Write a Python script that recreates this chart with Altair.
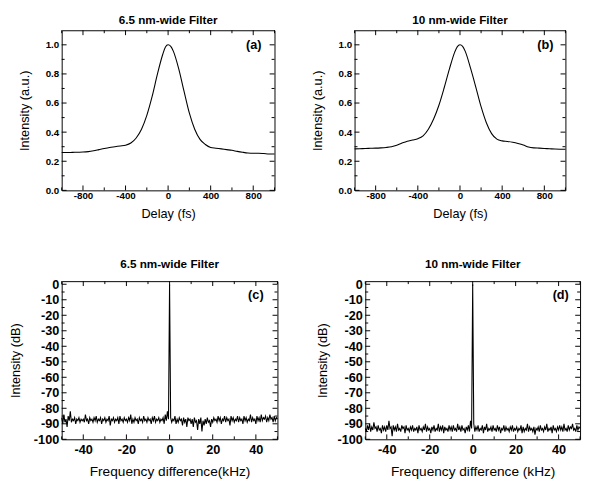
import altair as alt
import pandas as pd
import numpy as np

# ---------------- data ----------------
delay = [-1000, -950, -900, -850, -800, -750, -700, -650, -600, -550, -500, -450,
         -400, -350, -300, -250, -200, -150, -100, -50, -25, 0, 25, 50, 100, 150, 200, 250,
         300, 350, 400, 450, 500, 550, 600, 650, 700, 750, 800, 850, 900, 950, 1000]

intensity_a = [0.260, 0.260, 0.261, 0.262, 0.263, 0.266, 0.272, 0.280, 0.288, 0.295,
               0.300, 0.305, 0.310, 0.325, 0.360, 0.420, 0.515, 0.645, 0.800, 0.935, 0.985,
               1.000, 0.990, 0.955, 0.835, 0.680, 0.530, 0.420, 0.350, 0.315, 0.295, 0.290,
               0.285, 0.280, 0.275, 0.268, 0.262, 0.257, 0.255, 0.255, 0.253, 0.250, 0.250]

intensity_b = [0.285, 0.286, 0.288, 0.289, 0.290, 0.292, 0.295, 0.300, 0.310, 0.325,
               0.338, 0.346, 0.355, 0.375, 0.420, 0.490, 0.585, 0.705, 0.835, 0.950, 0.988,
               1.000, 0.990, 0.955, 0.840, 0.710, 0.575, 0.465, 0.390, 0.352, 0.340, 0.336,
               0.330, 0.322, 0.312, 0.298, 0.292, 0.290, 0.288, 0.286, 0.284, 0.283, 0.283]

freq = list(np.arange(-50, 50.5, 0.5))

spectrum_c = [
    -86, -90, -84, -89, -87, -92, -85, -88, -82, -89, -87, -88, -86, -90, -87, -88, -86, -89, -87, -88,
    -87, -89, -84, -88, -87, -90, -86, -88, -87, -89, -86, -88, -85, -89, -87, -88, -86, -90, -87, -88,
    -86, -89, -87, -88, -85, -91, -87, -88, -86, -89, -87, -88, -86, -90, -85, -88, -87, -89, -86, -88,
    -87, -89, -86, -88, -84, -90, -87, -89, -86, -88, -87, -90, -86, -88, -87, -89, -85, -88, -87, -89,
    -86, -88, -87, -90, -86, -88, -85, -89, -87, -88, -86, -89, -87, -88, -86, -90, -84, -88, -82, -87,
    0,
    -86, -89, -87, -88, -85, -90, -87, -89, -86, -88, -87, -91, -86, -89, -87, -92, -86, -88, -87, -90,
    -87, -92, -86, -89, -88, -94, -87, -90, -86, -95, -88, -91, -87, -90, -86, -89, -88, -92, -87, -89,
    -86, -88, -87, -89, -85, -88, -86, -90, -87, -88, -85, -89, -86, -88, -87, -91, -85, -88, -86, -89,
    -87, -88, -85, -89, -86, -88, -87, -90, -85, -88, -86, -89, -87, -88, -84, -89, -86, -88, -87, -90,
    -85, -88, -86, -89, -84, -88, -86, -87, -85, -89, -86, -88, -84, -87, -86, -89, -85, -88, -86, -87,
]

spectrum_d = [
    -93, -95, -91, -94, -90, -95, -92, -94, -89, -93, -92, -95, -91, -94, -93, -96, -91, -94, -92, -95,
    -91, -94, -88, -93, -92, -98, -91, -94, -92, -95, -90, -94, -93, -95, -91, -93, -92, -96, -91, -94,
    -93, -95, -92, -94, -91, -95, -93, -94, -92, -96, -91, -94, -93, -95, -92, -94, -90, -95, -92, -94,
    -93, -96, -92, -94, -91, -95, -93, -94, -90, -95, -92, -94, -91, -96, -92, -94, -93, -95, -91, -94,
    -92, -95, -91, -94, -93, -95, -90, -94, -92, -95, -91, -94, -93, -96, -92, -94, -91, -95, -88, -93,
    0,
    -90, -95, -92, -94, -91, -95, -93, -94, -91, -96, -92, -94, -90, -95, -93, -94, -92, -95, -91, -94,
    -93, -95, -91, -94, -92, -96, -93, -94, -91, -95, -92, -94, -93, -95, -92, -94, -91, -95, -93, -94,
    -92, -95, -93, -94, -91, -96, -92, -95, -93, -94, -90, -95, -92, -94, -93, -95, -92, -97, -93, -94,
    -92, -95, -91, -94, -93, -95, -92, -94, -90, -95, -93, -94, -92, -96, -91, -94, -93, -95, -92, -94,
    -91, -94, -92, -95, -90, -94, -93, -95, -91, -94, -92, -93, -90, -94, -93, -95, -91, -94, -92, -93,
]

delay_major = [-800, -400, 0, 400, 800]
delay_minor = [-1000, -600, -200, 200, 600, 1000]
int_major = [0.0, 0.2, 0.4, 0.6, 0.8, 1.0]
int_minor = [0.1, 0.3, 0.5, 0.7, 0.9]
freq_major = [-40, -20, 0, 20, 40]
freq_minor = [-50, -30, -10, 10, 30, 50]
db_major = [0, -10, -20, -30, -40, -50, -60, -70, -80, -90, -100]
db_minor = [-5, -15, -25, -35, -45, -55, -65, -75, -85, -95]

titles = ["6.5 nm-wide Filter", "10 nm-wide Filter", "6.5 nm-wide Filter", "10 nm-wide Filter"]
tags = ["(a)", "(b)", "(c)", "(d)"]

FONT = "Liberation Sans"
HYPHEN = "replace(datum.label, '\u2212', '-')"


def panel(xs, ys, xdom, ydom, xmaj, xmin, ymaj, ymin, title, tag, tagpos,
          xtitle, ytitle, w, h, lab_size, ttl_size, ytp, yfmt, xlp, xtp, toff, interp):
    df = pd.DataFrame({"x": xs, "y": ys})
    xs_ = alt.Scale(domain=xdom, nice=False, zero=False)
    ys_ = alt.Scale(domain=ydom, nice=False, zero=False)
    xax = alt.Axis(
        values=xmaj, title=xtitle, ticks=False, domain=False, grid=False, labelExpr=HYPHEN,
        labelFontSize=lab_size, labelFontWeight="bold", labelPadding=xlp,
        titleFontSize=ttl_size, titleFontWeight="normal", titlePadding=xtp,
        labelColor="black", titleColor="black", labelFont=FONT, titleFont=FONT)
    yax = alt.Axis(
        values=ymaj, title=ytitle, ticks=False, domain=False, grid=False, format=yfmt,
        labelExpr=HYPHEN,
        labelFontSize=lab_size, labelFontWeight="bold", labelPadding=3,
        titleFontSize=13, titleFontWeight="normal", titlePadding=ytp,
        labelColor="black", titleColor="black", labelFont=FONT, titleFont=FONT)
    line = alt.Chart(df).mark_line(color="black", strokeWidth=1.1, interpolate=interp).encode(
        x=alt.X("x:Q", scale=xs_, axis=xax),
        y=alt.Y("y:Q", scale=ys_, axis=yax),
    )
    layers = [line]
    for vals, L in ((xmaj, 5), (xmin, 3)):
        tdf = pd.DataFrame({"x": vals})
        for y0, y1 in ((0, L), (h, h - L)):
            layers.append(alt.Chart(tdf).mark_rule(color="black", strokeWidth=1).encode(
                x=alt.X("x:Q", scale=xs_, axis=xax), y=alt.value(y0), y2=alt.value(y1)))
    for vals, L in ((ymaj, 5), (ymin, 3)):
        tdf = pd.DataFrame({"y": vals})
        for x0, x1 in ((0, L), (w, w - L)):
            layers.append(alt.Chart(tdf).mark_rule(color="black", strokeWidth=1).encode(
                y=alt.Y("y:Q", scale=ys_, axis=yax), x=alt.value(x0), x2=alt.value(x1)))
    tagdf = pd.DataFrame({"x": [tagpos[0]], "y": [tagpos[1]], "label": [tag]})
    layers.append(alt.Chart(tagdf).mark_text(fontSize=13, fontWeight="bold", font=FONT,
                                             color="black", align="center", baseline="middle").encode(
        x=alt.X("x:Q", scale=xs_, axis=xax), y=alt.Y("y:Q", scale=ys_, axis=yax), text="label:N"))
    return alt.layer(*layers).properties(
        width=w, height=h,
        title=alt.TitleParams(title, fontSize=12, fontWeight="bold", font=FONT, color="black", offset=toff))


pa = panel(delay, intensity_a, [-1000, 1000], [0, 1.1], delay_major, delay_minor, int_major, int_minor,
           titles[0], tags[0], (805, 1.0), "Delay (fs)", "Intensity (a.u.)", 218, 164, 10, 13, 14, ".1f", 0, 8, 3,
           "monotone")
pb = panel(delay, intensity_b, [-1000, 1000], [0, 1.1], delay_major, delay_minor, int_major, int_minor,
           titles[1], tags[1], (810, 1.0), "Delay (fs)", "Intensity (a.u.)", 216, 164, 10, 13, 14, ".1f", 0, 8, 3,
           "monotone")
pc = panel(freq, spectrum_c, [-50, 50], [-100, 2], freq_major, freq_minor, db_major, db_minor,
           titles[2], tags[2], (40, -7), "Frequency difference(kHz)", "Intensity (dB)", 221, 162, 13, 14, 11, "d",
           5, 8, 8, "linear")
pd_ = panel(freq, spectrum_d, [-50, 50], [-100, 2], freq_major, freq_minor, db_major, db_minor,
            titles[3], tags[3], (41, -7), "Frequency difference (kHz)", "Intensity (dB)", 220, 162, 13, 14, 8, "d",
            5, 8, 8, "linear")

row1 = alt.hconcat(pa, pb, spacing=34)
row2 = alt.hconcat(pc, pd_, spacing=36)
chart = alt.vconcat(row1, row2, spacing=36).properties(
    padding={"left": 1, "top": 0, "right": 0, "bottom": 0}
).configure_view(stroke="black", strokeWidth=1)

chart.save("out.html", embed_options={"renderer": "svg", "actions": False})
